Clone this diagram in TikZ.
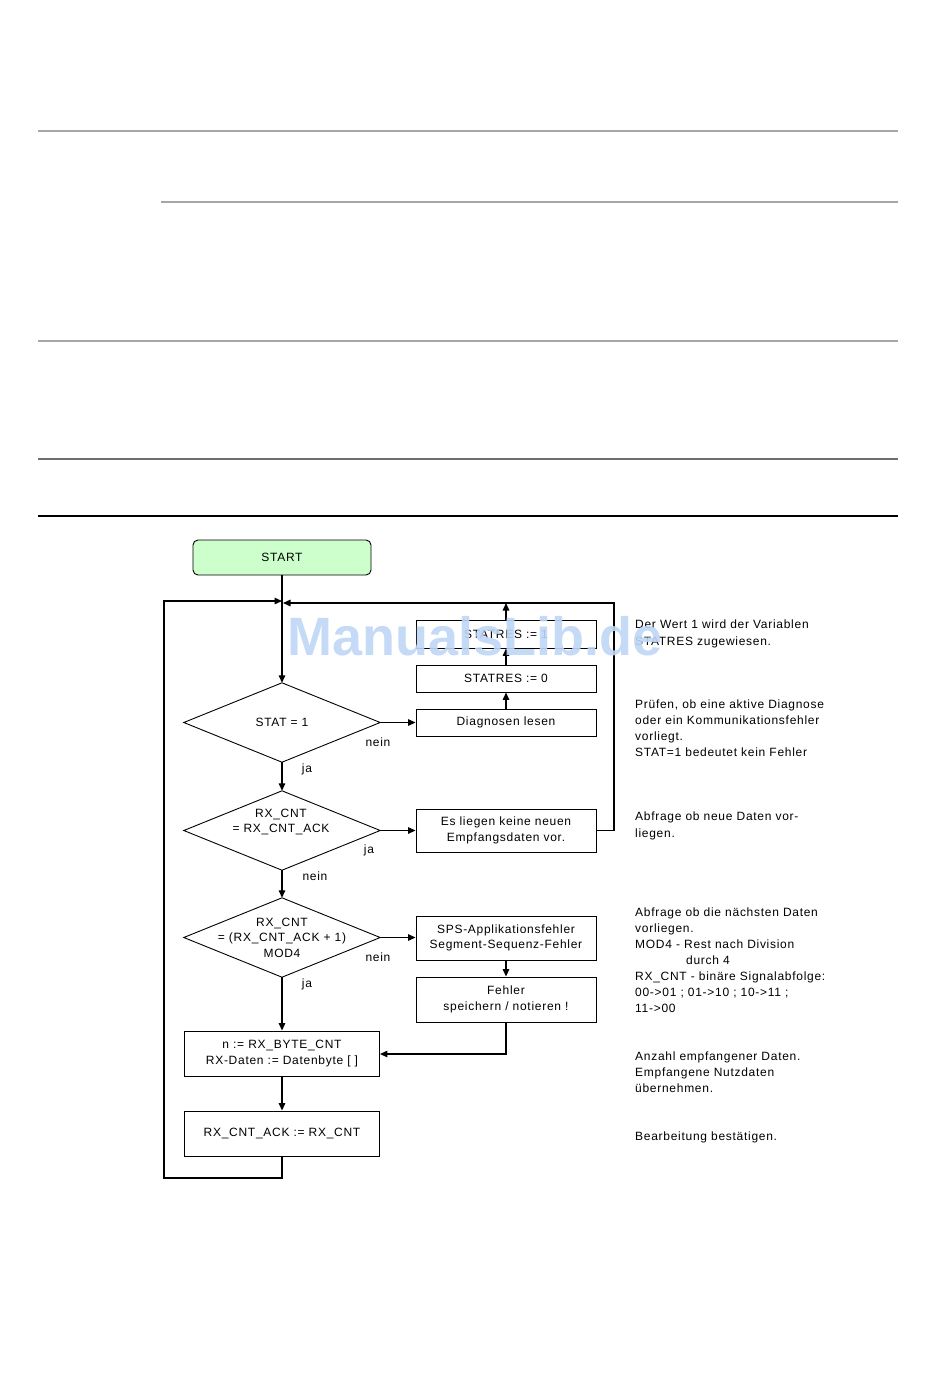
\documentclass[tikz,border=0pt]{standalone}
\usepackage{fontspec}
\setmainfont[LetterSpace=6]{Liberation Sans}
\newfontfamily\wmfont{Liberation Sans}
\usetikzlibrary{arrows.meta}
\definecolor{startgreen}{RGB}{204,255,204}
\definecolor{hgray}{RGB}{166,166,166}
\definecolor{hdark}{RGB}{110,110,110}
\definecolor{wmblue}{RGB}{190,214,245}
\tikzset{
  txt/.style={font=\fontsize{12}{15.5}\selectfont, inner sep=0pt},
  box/.style={draw, line width=0.9pt, minimum width=180pt, align=center, txt},
  decide/.style={rectangle, minimum width=196pt, minimum height=79pt, inner sep=0pt, align=center, txt},
  dshape/.style={draw, line width=0.9pt},
  arr/.style={line width=1.3pt, -{Triangle[length=7.5pt,width=6.5pt]}},
  note/.style={txt, anchor=base west},
  lbl/.style={txt},
  hline/.style={line width=2pt, hgray}
}
\begin{document}
\begin{tikzpicture}[x=1pt,y=-1pt]
\useasboundingbox (0,0) rectangle (950,1379);
% horizontal rules
\coordinate (h1a) at (38,131); \coordinate (h1b) at (898,131);
\coordinate (h2a) at (161,202); \coordinate (h2b) at (898,202);
\coordinate (h3a) at (38,341); \coordinate (h3b) at (898,341);
\coordinate (h4a) at (38,459); \coordinate (h4b) at (898,459);
\coordinate (h5a) at (38,516); \coordinate (h5b) at (898,516);
\draw[hline] (h1a) -- (h1b);
\draw[hline] (h2a) -- (h2b);
\draw[hline] (h3a) -- (h3b);
\draw[hline, hdark] (h4a) -- (h4b);
\draw[line width=1.6pt, black] (h5a) -- (h5b);

% nodes
\node[draw, line width=0.9pt, fill=startgreen, rounded corners=5pt, minimum width=178pt, minimum height=35pt, txt] (start) at (282,557.5) {START};
\node[box, minimum height=28pt] (s1) at (506,634) {STATRES := 1};
\node[box, minimum height=27pt] (s0) at (506,678.5) {STATRES := 0};
\node[box, minimum height=27pt] (diag) at (506,722.5) {Diagnosen lesen};
\node[box, minimum height=43pt] (esl) at (506,830.5) {Es liegen keine neuen\\Empfangsdaten vor.};
\node[box, minimum height=44pt] (sps) at (506,938) {SPS-Applikationsfehler\\Segment-Sequenz-Fehler};
\node[box, minimum height=45pt] (fehl) at (506,999.5) {Fehler\\speichern / notieren !};
\node[box, minimum width=195pt, minimum height=45pt] (nbox) at (282,1053.5) {n := RX\_BYTE\_CNT\\RX-Daten := Datenbyte [ ]};
\node[box, minimum width=195pt, minimum height=45pt] (ack) at (282,1133.5) {RX\_CNT\_ACK := RX\_CNT};
\node[decide] (d1) at (282,722.5) {STAT = 1};
\node[decide] (d2) at (282,830.5) {};
\node[txt, align=center] (d2t) at (281,822) {RX\_CNT\\= RX\_CNT\_ACK};
\node[decide] (d3) at (282,937.5) {RX\_CNT\\= (RX\_CNT\_ACK + 1)\\MOD4};
\draw[dshape] (d1.north) -- (d1.east) -- (d1.south) -- (d1.west) -- cycle;
\draw[dshape] (d2.north) -- (d2.east) -- (d2.south) -- (d2.west) -- cycle;
\draw[dshape] (d3.north) -- (d3.east) -- (d3.south) -- (d3.west) -- cycle;

% junction coordinates
\coordinate (mL) at (282,601);
\coordinate (mR) at (283,603);
\coordinate (lb) at (164,1178);
\coordinate (lt) at (164,601);
\coordinate (rb) at (614,830.5);
\coordinate (rt) at (614,603);
\coordinate (j1) at (506,603);
\coordinate (fj) at (506,1054);

% connectors
\draw[arr] (start.south) -- (d1.north);
\draw[arr] (ack.south) |- (lb) -- (lt) -- (mL);
\draw[arr] (esl.east) -- (rb) -- (rt) -- (mR);
\draw[arr] (s1.north) -- (j1);
\draw[arr] (s0.north) -- (s1.south);
\draw[arr] (diag.north) -- (s0.south);
\draw[arr] (d1.east) -- (diag.west);
\draw[arr] (d1.south) -- (d2.north);
\draw[arr] (d2.east) -- (esl.west);
\draw[arr] (d2.south) -- (d3.north);
\draw[arr] (d3.east) -- (sps.west |- d3.east);
\draw[arr] (sps.south) -- (fehl.north);
\draw[arr] (d3.south) -- (nbox.north);
\draw[arr] (fehl.south) -- (fj) -- (nbox.east |- fj);
\draw[arr] (nbox.south) -- (ack.north);

% branch labels
\node[lbl] (l1) at (378,742) {nein};
\node[lbl] (l2) at (307,769) {ja};
\node[lbl] (l3) at (369,850) {ja};
\node[lbl] (l4) at (315,876) {nein};
\node[lbl] (l5) at (378,957) {nein};
\node[lbl] (l6) at (307,984) {ja};

% notes
\node[note] (n1a) at (635,628) {Der Wert 1 wird der Variablen};
\node[note] (n1b) at (635,645) {STATRES zugewiesen.};
\node[note] (n2a) at (635,708) {Prüfen, ob eine aktive Diagnose};
\node[note] (n2b) at (635,724) {oder ein Kommunikationsfehler};
\node[note] (n2c) at (635,740) {vorliegt.};
\node[note] (n2d) at (635,756) {STAT=1 bedeutet kein Fehler};
\node[note] (n3a) at (635,820) {Abfrage ob neue Daten vor-};
\node[note] (n3b) at (635,837) {liegen.};
\node[note] (n4a) at (635,916) {Abfrage ob die nächsten Daten};
\node[note] (n4b) at (635,932) {vorliegen.};
\node[note] (n4c) at (635,948) {MOD4 - Rest nach Division};
\node[note] (n4d) at (686,964) {durch 4};
\node[note] (n4e) at (635,980) {RX\_CNT - binäre Signalabfolge:};
\node[note] (n4f) at (635,996) {00->01 ; 01->10 ; 10->11 ;};
\node[note] (n4g) at (635,1012) {11->00};
\node[note] (n5a) at (635,1060) {Anzahl empfangener Daten.};
\node[note] (n5b) at (635,1076) {Empfangene Nutzdaten};
\node[note] (n5c) at (635,1092) {übernehmen.};
\node[note] (n6a) at (635,1140) {Bearbeitung bestätigen.};

% watermark
\node[inner sep=0pt, text=wmblue, opacity=0.9, font=\wmfont\fontsize{54}{54}\bfseries\selectfont] (wm) at (475,636) {ManualsLib.de};
\end{tikzpicture}
\end{document}
